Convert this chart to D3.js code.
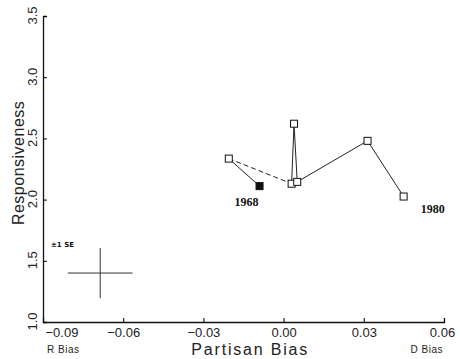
<!DOCTYPE html>
<html>
<head>
<meta charset="utf-8">
<script src="https://cdn.jsdelivr.net/npm/d3@7"></script>
<style>
  body { margin: 0; background: #fff; }
  svg { display: block; }
  .tick text { font-family: "Liberation Sans", Arial, sans-serif; font-size: 13px; fill: #222; }
</style>
</head>
<body>
<svg id="chart" width="460" height="359"></svg>
<script>
// data
const years    = ["1968", "", "", "", "", "", "1980"];
const biasVals = [-0.009, -0.0205, 0.003, 0.0039, 0.0051, 0.0314, 0.0449];
const respVals = [2.11, 2.335, 2.13, 2.62, 2.145, 2.48, 2.025];
const dashedSegment = [1, 2];   // segment drawn dashed (index of from/to)

const seCenter = [-0.0686, 1.40];
const seHalf   = [0.0121, 0.205];

const xTicks = [-0.09, -0.06, -0.03, 0.00, 0.03, 0.06];
const yTicks = [1.0, 1.5, 2.0, 2.5, 3.0, 3.5];

const svg = d3.select("#chart");
const margin = { left: 43, right: 16, top: 16, bottom: 37 };
const width  = 460 - margin.left - margin.right;
const height = 359 - margin.top - margin.bottom;

const x = d3.scaleLinear().domain([-0.09, 0.06]).range([0, width]);
const y = d3.scaleLinear().domain([1.0, 3.5]).range([height, 0]);

const g = svg.append("g").attr("transform", `translate(${margin.left},${margin.top})`);

// axes with inward ticks
const fmt = d => d3.format(".2f")(d).replace("-", "\u2212");
const xAxis = g.append("g")
    .attr("transform", `translate(0,${height})`)
    .call(d3.axisBottom(x).tickValues(xTicks).tickSize(-4).tickPadding(6).tickFormat(fmt));
xAxis.selectAll(".tick").filter(d => d === -0.09).select("line").remove();
xAxis.selectAll(".tick").filter(d => d === -0.09).select("text")
    .attr("text-anchor", "start").attr("x", 2);
xAxis.selectAll(".tick").filter(d => d === 0.06).select("text").attr("x", -2);
xAxis.select(".domain").attr("stroke", "#111").attr("stroke-width", 1.3);

const yAxis = g.append("g")
    .call(d3.axisLeft(y).tickValues(yTicks).tickSize(-4).tickFormat(d3.format(".1f")));
yAxis.select(".domain").attr("stroke", "#111").attr("stroke-width", 1.3);
yAxis.selectAll(".tick").filter(d => d === 1.0).select("line").remove();
yAxis.selectAll(".tick text")
    .attr("x", 0).attr("dy", 0)
    .attr("text-anchor", "middle")
    .attr("transform", "translate(-6,-1) rotate(-90)");

// axis titles
svg.append("text")
    .attr("x", margin.left + x(-0.0125)).attr("y", 355)
    .attr("text-anchor", "middle")
    .style("font-family", "Liberation Sans, Arial, sans-serif")
    .style("font-size", "16px").style("letter-spacing", "1.8px").attr("fill", "#222")
    .text("Partisan Bias");
svg.append("text")
    .attr("transform", `translate(24,${margin.top + y(2.3)}) rotate(-90)`)
    .attr("text-anchor", "middle")
    .style("font-family", "Liberation Sans, Arial, sans-serif")
    .style("font-size", "16px").style("letter-spacing", "0.5px").attr("fill", "#222")
    .text("Responsiveness");
svg.append("text")
    .attr("x", 47).attr("y", 353)
    .style("font-family", "Liberation Sans, Arial, sans-serif")
    .style("font-size", "10px").style("letter-spacing", "0.5px").attr("fill", "#222")
    .text("R Bias");
svg.append("text")
    .attr("x", 443).attr("y", 353).attr("text-anchor", "end")
    .style("font-family", "Liberation Sans, Arial, sans-serif")
    .style("font-size", "10px").style("letter-spacing", "0.5px").attr("fill", "#222")
    .text("D Bias");

// connecting segments
const pts = biasVals.map((b, i) => ({ b: b, r: respVals[i], year: years[i] }));
const segs = d3.pairs(pts).map((p, i) => ({ a: p[0], c: p[1], dashed: i === dashedSegment[0] }));
g.selectAll(".seg").data(segs).enter().append("line")
    .attr("class", "seg")
    .attr("x1", d => x(d.a.b)).attr("y1", d => y(d.a.r))
    .attr("x2", d => x(d.c.b)).attr("y2", d => y(d.c.r))
    .attr("stroke", "#222").attr("stroke-width", 1)
    .attr("stroke-dasharray", d => d.dashed ? "5,3" : null);

// markers
const s = 7;
g.selectAll(".pt").data(pts).enter().append("rect")
    .attr("class", "pt")
    .attr("x", d => x(d.b) - s / 2).attr("y", d => y(d.r) - s / 2)
    .attr("width", s).attr("height", s)
    .attr("fill", (d, i) => i === 0 ? "#111" : "#fff")
    .attr("stroke", "#111").attr("stroke-width", 1);

// year labels
g.append("text")
    .attr("x", x(biasVals[0]) - 13).attr("y", y(respVals[0]) + 20)
    .attr("text-anchor", "middle")
    .style("font-family", "Liberation Serif, Times New Roman, serif")
    .style("font-size", "12px").style("font-weight", "bold").attr("fill", "#111")
    .text("1968");
g.append("text")
    .attr("x", x(biasVals[6]) + 29).attr("y", y(respVals[6]) + 16)
    .attr("text-anchor", "middle")
    .style("font-family", "Liberation Serif, Times New Roman, serif")
    .style("font-size", "12px").style("font-weight", "bold").attr("fill", "#111")
    .text("1980");

// ±1 SE cross
g.append("line")
    .attr("x1", x(seCenter[0] - seHalf[0])).attr("x2", x(seCenter[0] + seHalf[0]))
    .attr("y1", y(seCenter[1])).attr("y2", y(seCenter[1]))
    .attr("stroke", "#333").attr("stroke-width", 1);
g.append("line")
    .attr("x1", x(seCenter[0])).attr("x2", x(seCenter[0]))
    .attr("y1", y(seCenter[1] - seHalf[1])).attr("y2", y(seCenter[1] + seHalf[1]))
    .attr("stroke", "#333").attr("stroke-width", 1);
g.append("text")
    .attr("x", 8).attr("y", y(1.61))
    .style("font-family", "DejaVu Sans, sans-serif")
    .style("font-size", "7px").style("font-weight", "bold").attr("fill", "#111")
    .text("\u00b11 SE");
</script>
</body>
</html>
